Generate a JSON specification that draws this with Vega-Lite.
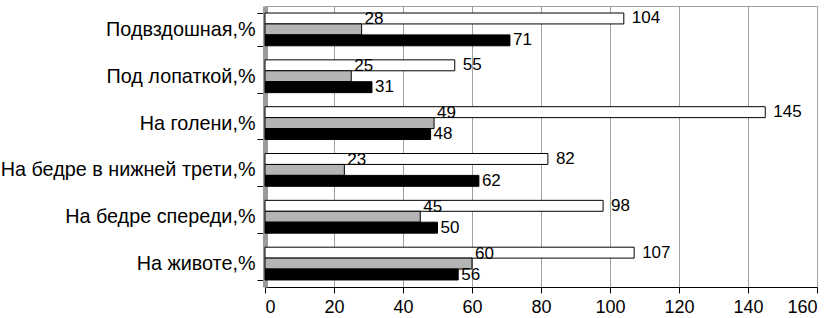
{
  "$schema": "https://vega.github.io/schema/vega-lite/v6.json",
  "width": 552,
  "height": 281,
  "autosize": "none",
  "padding": {"left": 265, "top": 6, "right": 8, "bottom": 31},
  "background": "white",
  "config": {"view": {"stroke": "#a0a0a0"}, "font": "Liberation Sans"},
  "data": {
    "values": [
      {"cat": "Подвздошная,%", "s": "Ряд1", "v": 104},
      {"cat": "Подвздошная,%", "s": "Ряд2", "v": 28},
      {"cat": "Подвздошная,%", "s": "Ряд3", "v": 71},
      {"cat": "Под лопаткой,%", "s": "Ряд1", "v": 55},
      {"cat": "Под лопаткой,%", "s": "Ряд2", "v": 25},
      {"cat": "Под лопаткой,%", "s": "Ряд3", "v": 31},
      {"cat": "На голени,%", "s": "Ряд1", "v": 145},
      {"cat": "На голени,%", "s": "Ряд2", "v": 49},
      {"cat": "На голени,%", "s": "Ряд3", "v": 48},
      {"cat": "На бедре в нижней трети,%", "s": "Ряд1", "v": 82},
      {"cat": "На бедре в нижней трети,%", "s": "Ряд2", "v": 23},
      {"cat": "На бедре в нижней трети,%", "s": "Ряд3", "v": 62},
      {"cat": "На бедре спереди,%", "s": "Ряд1", "v": 98},
      {"cat": "На бедре спереди,%", "s": "Ряд2", "v": 45},
      {"cat": "На бедре спереди,%", "s": "Ряд3", "v": 50},
      {"cat": "На животе,%", "s": "Ряд1", "v": 107},
      {"cat": "На животе,%", "s": "Ряд2", "v": 60},
      {"cat": "На животе,%", "s": "Ряд3", "v": 56}
    ]
  },
  "encoding": {
    "y": {
      "field": "cat",
      "type": "nominal",
      "sort": ["Подвздошная,%", "Под лопаткой,%", "На голени,%", "На бедре в нижней трети,%", "На бедре спереди,%", "На животе,%"],
      "scale": {"paddingInner": 0.3, "paddingOuter": 0.15},
      "axis": {
        "title": null,
        "labelFontSize": 19.8,
        "labelColor": "black",
        "labelPadding": 2,
        "tickBand": "extent",
        "tickSize": 8,
        "tickColor": "black",
        "domainColor": "#9a9a9a",
        "domainWidth": 5,
        "labelLimit": 400
      }
    },
    "yOffset": {"field": "s", "type": "nominal", "sort": ["Ряд1", "Ряд2", "Ряд3"]},
    "x": {
      "field": "v",
      "type": "quantitative",
      "scale": {"domain": [0, 160]},
      "axis": {
        "title": null,
        "values": [0, 20, 40, 60, 80, 100, 120, 140, 160],
        "labelFontSize": 18,
        "labelColor": "black",
        "tickSize": 6,
        "tickColor": "black",
        "domainColor": "black",
        "grid": true,
        "gridColor": "#a0a0a0",
        "labelPadding": 5
      }
    }
  },
  "layer": [
    {
      "mark": {"type": "bar", "stroke": "black", "strokeWidth": 1},
      "encoding": {
        "color": {
          "field": "s",
          "type": "nominal",
          "scale": {"domain": ["Ряд1", "Ряд2", "Ряд3"], "range": ["white", "#b4b4b4", "black"]},
          "legend": null
        }
      }
    },
    {
      "transform": [{"filter": "datum.s === 'Ряд1'"}],
      "mark": {"type": "text", "align": "left", "dx": 8, "fontSize": 17, "color": "black"},
      "encoding": {"text": {"field": "v", "type": "quantitative"}}
    },
    {
      "transform": [{"filter": "datum.s === 'Ряд2'"}],
      "mark": {"type": "text", "align": "left", "dx": 3, "dy": -10, "fontSize": 17, "color": "black"},
      "encoding": {"text": {"field": "v", "type": "quantitative"}}
    },
    {
      "transform": [{"filter": "datum.s === 'Ряд3'"}],
      "mark": {"type": "text", "align": "left", "dx": 3, "fontSize": 17, "color": "black"},
      "encoding": {"text": {"field": "v", "type": "quantitative"}}
    }
  ]
}
